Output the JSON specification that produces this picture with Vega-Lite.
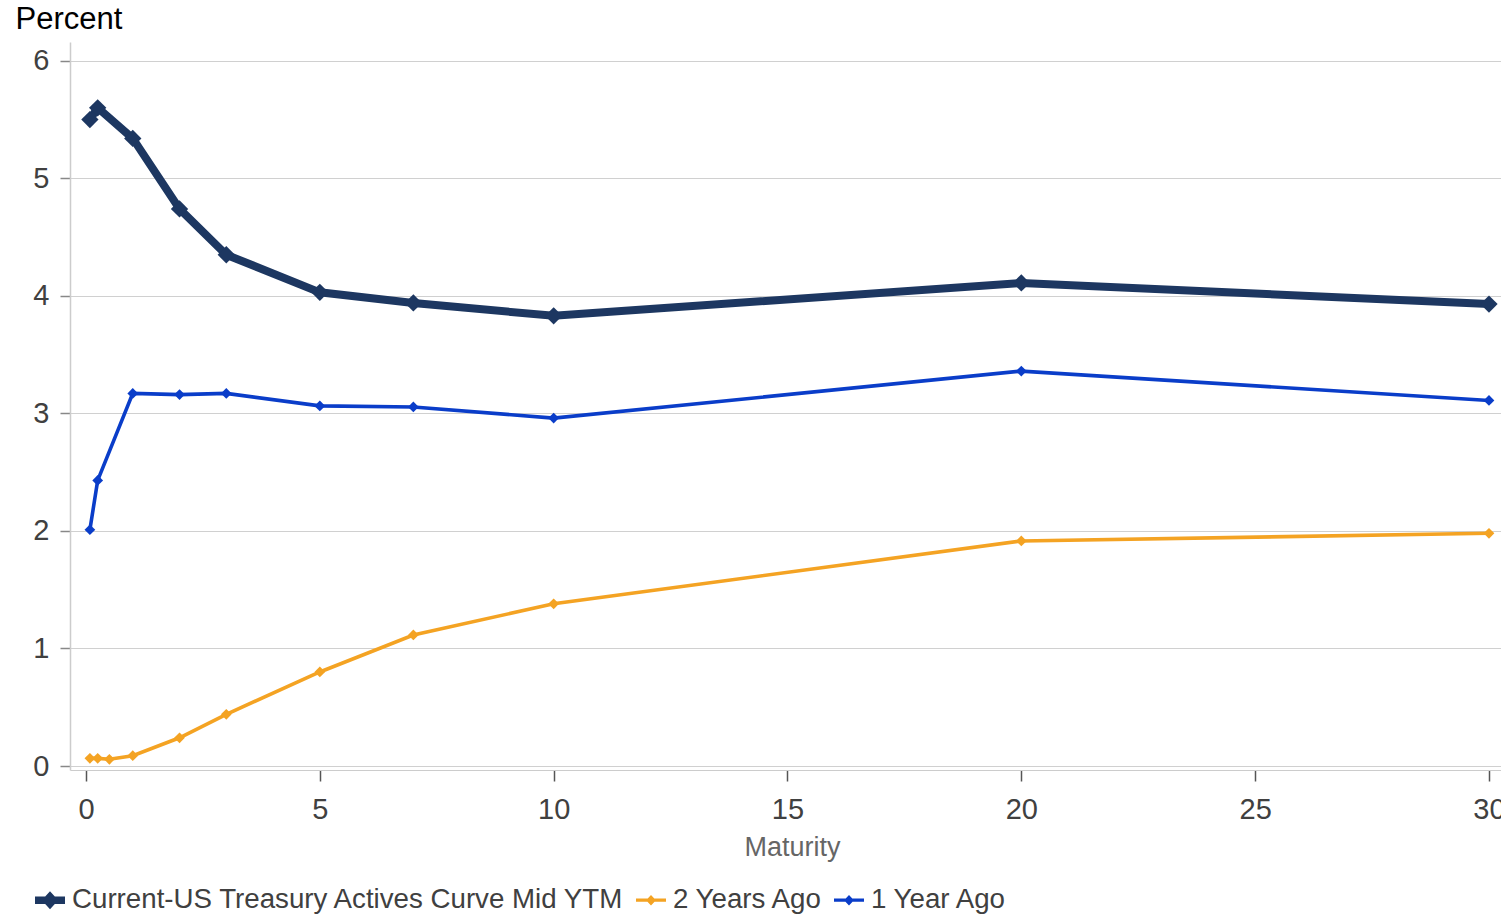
{
  "$schema": "https://vega.github.io/schema/vega-lite/v6.json",
  "autosize": {"type": "none"},
  "width": 1431,
  "height": 728,
  "padding": {"left": 70, "top": 42, "right": 0, "bottom": 145},
  "background": "white",
  "config": {
    "view": {"stroke": null},
    "font": "Liberation Sans"
  },
  "data": {
    "values": [
      {"series": "Current-US Treasury Actives Curve Mid YTM", "maturity": 0.0833, "yield": 5.50},
      {"series": "Current-US Treasury Actives Curve Mid YTM", "maturity": 0.25, "yield": 5.60},
      {"series": "Current-US Treasury Actives Curve Mid YTM", "maturity": 1, "yield": 5.34},
      {"series": "Current-US Treasury Actives Curve Mid YTM", "maturity": 2, "yield": 4.74},
      {"series": "Current-US Treasury Actives Curve Mid YTM", "maturity": 3, "yield": 4.35},
      {"series": "Current-US Treasury Actives Curve Mid YTM", "maturity": 5, "yield": 4.03},
      {"series": "Current-US Treasury Actives Curve Mid YTM", "maturity": 7, "yield": 3.94},
      {"series": "Current-US Treasury Actives Curve Mid YTM", "maturity": 10, "yield": 3.83},
      {"series": "Current-US Treasury Actives Curve Mid YTM", "maturity": 20, "yield": 4.11},
      {"series": "Current-US Treasury Actives Curve Mid YTM", "maturity": 30, "yield": 3.93},
      {"series": "2 Years Ago", "maturity": 0.0833, "yield": 0.065},
      {"series": "2 Years Ago", "maturity": 0.25, "yield": 0.065},
      {"series": "2 Years Ago", "maturity": 0.5, "yield": 0.057},
      {"series": "2 Years Ago", "maturity": 1, "yield": 0.088},
      {"series": "2 Years Ago", "maturity": 2, "yield": 0.24},
      {"series": "2 Years Ago", "maturity": 3, "yield": 0.44},
      {"series": "2 Years Ago", "maturity": 5, "yield": 0.80},
      {"series": "2 Years Ago", "maturity": 7, "yield": 1.115},
      {"series": "2 Years Ago", "maturity": 10, "yield": 1.38},
      {"series": "2 Years Ago", "maturity": 20, "yield": 1.915},
      {"series": "2 Years Ago", "maturity": 30, "yield": 1.98},
      {"series": "1 Year Ago", "maturity": 0.0833, "yield": 2.01},
      {"series": "1 Year Ago", "maturity": 0.25, "yield": 2.43},
      {"series": "1 Year Ago", "maturity": 1, "yield": 3.17},
      {"series": "1 Year Ago", "maturity": 2, "yield": 3.16},
      {"series": "1 Year Ago", "maturity": 3, "yield": 3.17},
      {"series": "1 Year Ago", "maturity": 5, "yield": 3.064},
      {"series": "1 Year Ago", "maturity": 7, "yield": 3.055},
      {"series": "1 Year Ago", "maturity": 10, "yield": 2.96},
      {"series": "1 Year Ago", "maturity": 20, "yield": 3.36},
      {"series": "1 Year Ago", "maturity": 30, "yield": 3.11}
    ]
  },
  "encoding": {
    "x": {
      "field": "maturity", "type": "quantitative",
      "scale": {"domain": [-0.342, 30.257], "nice": false, "zero": false},
      "axis": {
        "title": "Maturity", "values": [0, 5, 10, 15, 20, 25, 30],
        "grid": false, "domainColor": "#cccccc", "domainWidth": 1,
        "tickColor": "#555555", "tickSize": 11, "tickWidth": 1.5,
        "labelFontSize": 29, "labelColor": "#404040", "labelPadding": 14,
        "labelBound": false, "labelOverlap": false, "labelFlush": false,
        "titleFontSize": 27, "titleColor": "#666666", "titleFontWeight": "normal",
        "titlePadding": 10, "titleX": 722
      }
    },
    "y": {
      "field": "yield", "type": "quantitative",
      "scale": {"domain": [-0.034, 6.16], "nice": false, "zero": false},
      "axis": {
        "title": "Percent", "values": [0, 1, 2, 3, 4, 5, 6],
        "grid": true, "gridColor": "#d0d0d0", "gridWidth": 1,
        "domainColor": "#cccccc", "domainWidth": 1.5,
        "tickColor": "#888888", "tickSize": 10, "tickWidth": 1.5,
        "labelFontSize": 29, "labelColor": "#404040", "labelPadding": 11,
        "titleAngle": 0, "titleAlign": "left", "titleBaseline": "alphabetic",
        "titleX": -55, "titleY": -14, "titleFontSize": 31, "titleColor": "#000000",
        "titleFontWeight": "normal"
      }
    },
    "color": {
      "field": "series", "type": "nominal",
      "scale": {
        "domain": ["Current-US Treasury Actives Curve Mid YTM", "2 Years Ago", "1 Year Ago"],
        "range": ["#1d3761", "#f4a323", "#0a3dc9"]
      },
      "legend": {
        "title": null, "orient": "none", "direction": "horizontal",
        "legendX": -35, "legendY": 843,
        "symbolSize": 900, "symbolStrokeWidth": 0,
        "symbolType": "M-1,-0.11L1,-0.11L1,0.11L-1,0.11Z M-0.33,0L0,-0.33L0.33,0L0,0.33Z",
        "labelFontSize": 27.7, "labelColor": "#404040", "labelOffset": 7, "labelLimit": 0,
        "columnPadding": 11,
        "encode": {
          "symbols": {
            "update": {
              "fill": {"scale": "color", "field": "value"},
              "fillOpacity": {"value": 1},
              "shape": {"signal": "datum.value === 'Current-US Treasury Actives Curve Mid YTM' ? 'M-1,-0.25L1,-0.25L1,0.25L-1,0.25Z M-0.55,0L0,-0.6L0.55,0L0,0.6Z' : 'M-1,-0.11L1,-0.11L1,0.11L-1,0.11Z M-0.33,0L0,-0.35L0.33,0L0,0.35Z'"}
            }
          }
        }
      }
    }
  },
  "layer": [
    {
      "transform": [{"filter": "datum.series !== 'Current-US Treasury Actives Curve Mid YTM'"}],
      "mark": {"type": "line", "strokeWidth": 3.6}
    },
    {
      "transform": [{"filter": "datum.series !== 'Current-US Treasury Actives Curve Mid YTM'"}],
      "mark": {"type": "point", "shape": "diamond", "filled": true, "opacity": 1, "size": 115}
    },
    {
      "transform": [{"filter": "datum.series === 'Current-US Treasury Actives Curve Mid YTM'"}],
      "mark": {"type": "line", "strokeWidth": 8}
    },
    {
      "transform": [{"filter": "datum.series === 'Current-US Treasury Actives Curve Mid YTM'"}],
      "mark": {"type": "point", "shape": "diamond", "filled": true, "opacity": 1, "size": 300}
    }
  ]
}
